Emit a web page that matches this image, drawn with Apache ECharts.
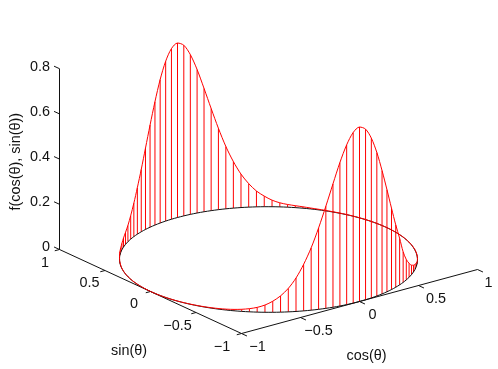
<!DOCTYPE html>
<html>
<head>
<meta charset="utf-8">
<script src="https://cdn.jsdelivr.net/npm/echarts@6/dist/echarts.min.js"></script>
<style>html,body{margin:0;padding:0;background:#fff;overflow:hidden}#c{width:498px;height:369px}</style>
</head>
<body>
<div id="c"></div>
<script>
// Angle samples (degrees) and values
const thetaDeg = [0,3,6,9,12,15,18,21,24,27,30,33,36,39,42,45,48,51,54,57,60,63,66,69,72,75,78,81,84,87,
  90,93,96,99,102,105,108,111,114,117,120,123,126,129,132,135,138,141,144,147,150,153,156,159,162,165,168,171,174,177,
  180,183,186,189,192,195,198,201,204,207,210,213,216,219,222,225,228,231,234,237,240,243,246,249,252,255,258,261,264,267,
  270,273,276,279,282,285,288,291,294,297,300,303,306,309,312,315,318,321,324,327,330,333,336,339,342,345,348,351,354,357,360];
const fValues = [.0003,.0003,.0003,.0003,.0004,.0004,.0006,.0007,.001,.0013,.0019,.0028,.0041,.0062,.0085,.012,.018,.029,.047,.07,.104,.148,.206,.276,.36,.452,.546,.635,.707,.755,
  .772,.755,.707,.635,.546,.452,.36,.276,.206,.148,.104,.072,.053,.04,.028,.02,.016,.012,.007,.004,.0025,.0013,.001,.0007,.0006,.0004,.0004,.0003,.0003,.0003,
  .0003,.0003,.0003,.0003,.0004,.0004,.0006,.0007,.001,.0013,.0019,.0028,.0041,.0062,.0093,.014,.021,.032,.049,.072,.104,.148,.206,.276,.36,.452,.546,.635,.707,.755,
  .772,.755,.707,.635,.546,.452,.36,.276,.206,.135,.09,.062,.042,.03,.022,.015,.0093,.0062,.0041,.0028,.0019,.0013,.001,.0007,.0006,.0004,.0004,.0003,.0003,.0003,.0003];
const zTicks = [0,0.2,0.4,0.6,0.8];
const zTickLabels = ['0','0.2','0.4','0.6','0.8'];
const sinTicks = [1,0.5,0,-0.5,-1];
const sinTickLabels = ['1','0.5','0','\u22120.5','\u22121'];
const cosTicks = [-1,-0.5,0,0.5,1];
const cosTickLabels = ['\u22121','\u22120.5','0','0.5','1'];
const xTitle = 'cos(\u03b8)', yTitle = 'sin(\u03b8)', zTitle = 'f(cos(\u03b8), sin(\u03b8))';

// Oblique 3D view: (cos, sin, z) -> plot position
function view(c, s, z) {
  return [268.5 + 118 * c - 91 * s, 259.5 - 32 * c - 42 * s - 226 * z];
}
const ring = thetaDeg.map(d => view(Math.cos(d*Math.PI/180), Math.sin(d*Math.PI/180), 0));
const curve = thetaDeg.map((d,i) => view(Math.cos(d*Math.PI/180), Math.sin(d*Math.PI/180), fValues[i]));
const stems = ring.slice(0,-1).map((p,i) => [p[0],p[1],curve[i][0],curve[i][1]]);

const segs = [];
zTicks.forEach(z => { const a=view(-1,1,z), b=view(-1,1.06,z); segs.push([a[0],a[1],b[0],b[1]]); });
sinTicks.forEach(s => { const a=view(-1,s,0), b=view(-1.04,s,0); segs.push([a[0],a[1],b[0],b[1]]); });
cosTicks.forEach(c => { const a=view(c,-1,0), b=view(c,-1.06,0); segs.push([a[0],a[1],b[0],b[1]]); });
const axisLines = [
  [...view(-1,1,0), ...view(-1,1,0.8)],
  [...view(-1,1,0), ...view(-1,-1,0)],
  [...view(-1,-1,0), ...view(1,-1,0)]
];
const segRender = color => (params, api) => {
  const a = api.coord([api.value(0), api.value(1)]);
  const b = api.coord([api.value(2), api.value(3)]);
  return {type:'line', shape:{x1:a[0],y1:a[1],x2:b[0],y2:b[1]}, style:{stroke:color,lineWidth:1}, silent:true};
};
const fontFamily = '"Liberation Sans", Arial, sans-serif';
function lab(pos, text, dx, dy, rot) {
  return {value:[pos[0]+dx,pos[1]+dy], label:{show:true,position:'inside',formatter:text,rotate:rot||0,
    fontSize:14.4,fontFamily:fontFamily,color:'#111'}};
}
const labels = [];
zTicks.forEach((z,i) => { const p=view(-1,1,z); const t=zTickLabels[i];
  labels.push(lab(p,t,t.length>1?-19.5:-13.5,-2)); });
sinTicks.forEach((s,i) => { const p=view(-1,s,0);
  labels.push(lab(p,sinTickLabels[i],[-14.5,-15.5,-16.5,-18.5,-19.5][i],[14,13,13,13.5,13.5][i])); });
cosTicks.forEach((c,i) => { const p=view(c,-1,0);
  labels.push(lab(p,cosTickLabels[i],[16,18,13,17.5,11][i],[14,13.5,13.5,13.5,14][i])); });
labels.push(lab(view(-1,-1,0),yTitle,-112.5,18));
labels.push(lab(view(1,-1,0),xTitle,-111,87));
labels.push(lab(view(-1,1,0.8),zTitle,-43.5,93,90));

const chart = echarts.init(document.getElementById('c'), null, {renderer:'canvas'});
chart.setOption({
  animation:false,
  backgroundColor:'#fff',
  grid:{left:0,right:0,top:0,bottom:0},
  xAxis:{type:'value',min:0,max:498,show:false},
  yAxis:{type:'value',min:0,max:369,inverse:true,show:false},
  series:[
    {type:'custom',data:axisLines.concat(segs),renderItem:segRender('#111'),clip:false,silent:true},
    {type:'line',data:ring,showSymbol:false,smooth:0.3,lineStyle:{color:'#111',width:1},silent:true},
    {type:'custom',data:stems,renderItem:segRender('#ff0000'),clip:false,silent:true},
    {type:'line',data:curve,showSymbol:false,smooth:0.3,lineStyle:{color:'#ff0000',width:1},silent:true},
    {type:'scatter',data:labels,symbolSize:0,itemStyle:{opacity:1},silent:true}
  ]
});
</script>
</body>
</html>
